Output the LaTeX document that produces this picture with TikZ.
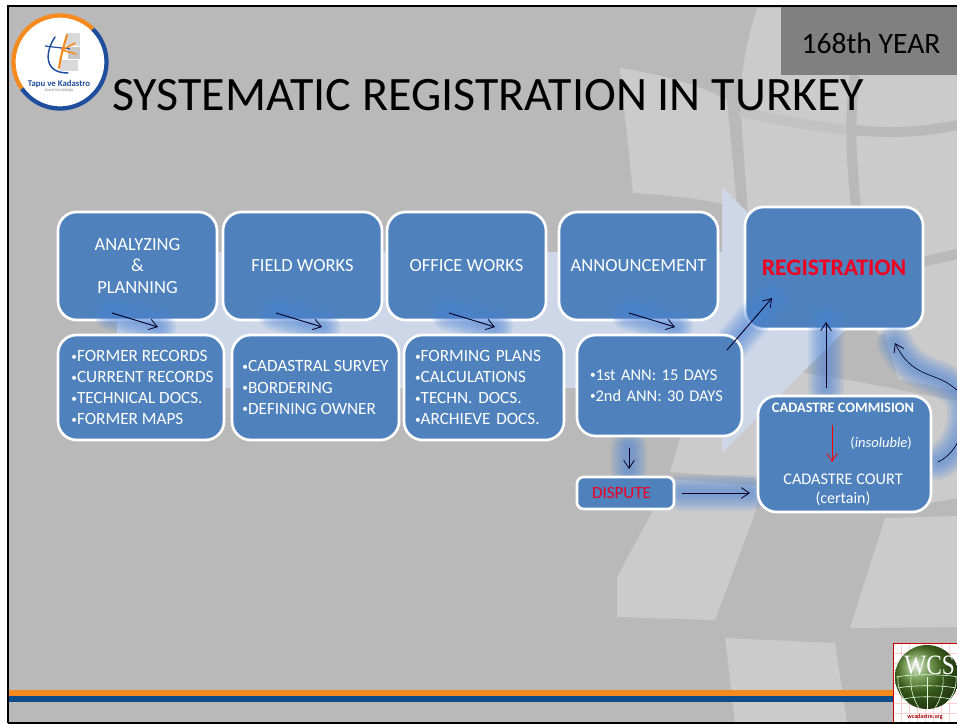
\documentclass[tikz,border=0pt]{standalone}
\usepackage{fontspec}
\setmainfont{Carlito}
\newfontfamily\wcsfont{Liberation Serif}
\usetikzlibrary{arrows.meta}
\definecolor{basegray}{HTML}{B9B9B9}
\definecolor{faintgray}{HTML}{C2C2C2}
\definecolor{lightgray2}{HTML}{CBCBCB}
\definecolor{palearrow}{HTML}{CED7E7}
\definecolor{boxblue}{HTML}{4F81BD}
\definecolor{glowblue}{HTML}{4A82D8}
\definecolor{barorange}{HTML}{F58A1F}
\definecolor{barblue}{HTML}{0F4C8A}
\definecolor{logoblue}{HTML}{1F4E9C}
\definecolor{yeargray}{HTML}{808080}
\definecolor{regred}{HTML}{F00020}
\definecolor{globegreen}{HTML}{55852A}
\newcommand{\pxw}[1]{#1*0.75pt}
\newcommand{\glowpath}[1]{\foreach \w in {36,32,28,24,20,16,12,8}{\draw[glowblue,line width=\pxw{\w},opacity=.1,line cap=round] #1;}}
\newcommand{\bul}{{\fontsize{8.5}{8}\selectfont\raisebox{1pt}{•}}}
\tikzset{
 patch/.style={fill=lightgray2,draw=none},
 strip/.style={draw=basegray,line width=7.5pt,line cap=butt},
 bx/.style={draw=white,line width=2pt,fill=boxblue,rounded corners=14pt,inner sep=0pt,text=white,align=center},
 boxtext/.style={font=\fontsize{13.9}{15.8}\selectfont},
 listtext/.style={font=\fontsize{12.9}{15.8}\selectfont,align=left},
 conn/.style={draw=black!85!blue,line width=.7pt,-{Straight Barb[length=6pt,width=8pt,line width=.6pt]}},
 redconn/.style={conn,draw=red},
 txt/.style={inner sep=0pt,text=white},
}
\begin{document}
\begin{tikzpicture}[x=0.75pt,y=-0.75pt]
\useasboundingbox (0,0) rectangle (957,724);
\fill[white] (0,0) rectangle (957,724);
\fill[basegray] (8,6) rectangle (957,723);
% background map patches
\fill[patch] (620,68) .. controls (660,74) and (700,85) .. (727,100) -- (737,207) .. controls (710,200) and (670,195) .. (633,193) -- cycle;
\fill[patch] (757,8) -- (957,8) -- (957,395) -- (895,382) -- (880,335) -- (748,212) -- (742,130) -- (740,90) .. controls (745,50) and (750,30) .. (757,8) -- cycle;
\fill[patch] (800,372) -- (895,388) -- (957,398) -- (957,498) -- (930,503) -- (760,478) -- (670,472) -- (680,438) -- (722,400) -- cycle;
\fill[patch] (670,479) -- (760,486) -- (755,513) -- (715,620) -- (617,617) -- (617,577) -- cycle;
\fill[patch] (885,518) -- (957,516) -- (957,627) -- (850,628) -- cycle;
\fill[patch] (725,638) -- (835,643) -- (847,722) -- (735,722) -- cycle;
\draw[strip,draw=faintgray] (740,112) .. controls (780,120) and (820,128) .. (853,130);
\draw[strip] (853,130) .. controls (890,134) and (925,132) .. (957,125);
\draw[strip] (855,75) .. controls (850,110) and (850,150) .. (856,207);
\draw[strip] (922,262) -- (957,254);
\draw[strip] (880,335) -- (893,380);
\draw[strip] (800,365) -- (957,396);
% large pale arrow
\fill[palearrow] (117,252) -- (722,252) -- (722,187) -- (855,320) -- (722,453) -- (722,388) -- (117,388) -- cycle;
% header
\fill[yeargray] (781,6) rectangle (957,75);
\draw[black,line width=1.5pt] (8,723) -- (8,6) -- (957,6);
\draw[black,line width=1.5pt] (8,723) -- (957,723);
\fill[barorange] (9,690) rectangle (893,696);
\fill[barblue] (9,696) rectangle (893,702);
% logo
\fill[white] (60,62) circle (48);
\fill[black!15] (66,33) rectangle (80,46);
\fill[black!22] (68,47) rectangle (80,59);
\fill[black!15] (60,60) rectangle (78,71);
\draw[logoblue,line width=1.1pt,line cap=round] (55,37) .. controls (46,50) and (42,73) .. (68,73);
\draw[logoblue,line width=.9pt] (45,46) -- (70,49);
\draw[barorange,line width=1.6pt,line cap=round] (67,35) .. controls (64,45) and (61,55) .. (59,68);
\draw[barorange,line width=1.2pt,line cap=round] (62,50) -- (75,43);
\draw[barorange,line width=1.2pt,line cap=round] (62,50) -- (76,54);
\draw[barorange,line width=3.2pt] plot[domain=45:215,samples=40] ({60+46.5*cos(\x)},{62-46.5*sin(\x)});
\draw[logoblue,line width=3.2pt] plot[domain=-145:45,samples=50] ({60+46.5*cos(\x)},{62-46.5*sin(\x)});
\node[inner sep=0pt,text=logoblue] (logoname) at (59,84) {\fontsize{6.6}{7}\selectfont\bfseries Tapu ve Kadastro};
\node[inner sep=0pt,text=black!50] (logosub) at (59,90) {\fontsize{3}{3.5}\selectfont Genel Müdürlüğü};
% titles
\node[inner sep=0pt,anchor=base west] (title) at (112,110) {\fontsize{36}{40}\selectfont SYSTEMATIC REGISTRATION IN TURKEY};
\node[inner sep=0pt] (year) at (871,43) {\fontsize{22.2}{24}\selectfont 168th YEAR};
% top row boxes
\node[bx,boxtext,minimum width=\pxw{159},minimum height=\pxw{108}] (analyze) at (137.5,266) {ANALYZING\\\&\\PLANNING};
\node[bx,boxtext,minimum width=\pxw{159},minimum height=\pxw{108}] (field) at (302.5,266) {FIELD WORKS};
\node[bx,boxtext,minimum width=\pxw{159},minimum height=\pxw{108}] (office) at (466.5,266) {OFFICE WORKS};
\node[bx,boxtext,minimum width=\pxw{159},minimum height=\pxw{108}] (announce) at (638.5,266) {ANNOUNCEMENT};
\node[bx,text=regred,minimum width=\pxw{178},minimum height=\pxw{122},font=\fontsize{17.8}{20}\selectfont\bfseries] (reg) at (834,268) {REGISTRATION};
% connector end points
\coordinate (a1s) at (112,313); \coordinate (a1e) at (158,327);
\coordinate (a2s) at (276,313); \coordinate (a2e) at (322,327);
\coordinate (a3s) at (449,313); \coordinate (a3e) at (495,327);
\coordinate (a4s) at (629,313); \coordinate (a4e) at (675,327);
\coordinate (a5s) at (727,350); \coordinate (a5e) at (772,298);
\coordinate (a6s) at (826,388); \coordinate (a6e) at (826,322);
\coordinate (a7s) at (938,462); \coordinate (a7e) at (895,343);
\coordinate (a8s) at (832,425); \coordinate (a8e) at (832,462);
\coordinate (a9s) at (629,448); \coordinate (a9e) at (629,469);
\coordinate (a10s) at (682,493); \coordinate (a10e) at (750,493);
% glows
\glowpath{(a1s) -- (a1e)}
\glowpath{(a2s) -- (a2e)}
\glowpath{(a3s) -- (a3e)}
\glowpath{(a4s) -- (a4e)}
\glowpath{(a5s) -- (a5e)}
\glowpath{(a6s) -- (a6e)}
\glowpath{(a9s) -- (a9e)}
\glowpath{(a10s) -- (a10e)}
\glowpath{(a7s) .. controls (965,450) and (975,400) .. (953,387) .. controls (935,372) and (912,378) .. (a7e)}
% lower row boxes
\node[bx,listtext,minimum width=\pxw{166},minimum height=\pxw{105}] (former) at (141,387.5) {\hspace*{2.2pt}\bul FORMER RECORDS\\\hspace*{2.2pt}\bul CURRENT RECORDS\\\hspace*{2.2pt}\bul TECHNICAL DOCS.\\\hspace*{2.2pt}\bul FORMER MAPS};
\node[bx,listtext,minimum width=\pxw{167},minimum height=\pxw{105}] (survey) at (315.5,387.5) {\bul CADASTRAL SURVEY\\\bul BORDERING\\\bul DEFINING OWNER};
\node[bx,listtext,minimum width=\pxw{160},minimum height=\pxw{105},text width=\pxw{138}] (plans) at (484,387.5) {\bul FORMING PLANS\\\bul CALCULATIONS\\\bul TECHN. DOCS.\\\bul ARCHIEVE DOCS.};
\node[bx,listtext,font=\fontsize{12.3}{15.8}\selectfont,minimum width=\pxw{165},minimum height=\pxw{101},text width=\pxw{139}] (ann) at (659.5,385.5) {\bul 1st ANN: 15 DAYS\\\bul 2nd ANN: 30 DAYS};
\node[bx,rounded corners=5pt,text=regred,minimum width=\pxw{97},minimum height=\pxw{32},text width=\pxw{67},align=left,font=\fontsize{12.8}{14}\selectfont] (dispute) at (625.5,493) {\raisebox{-2.2pt}{DISPUTE}};
\node[bx,minimum width=\pxw{173},minimum height=\pxw{116}] (cadbox) at (844.5,454) {};
\node[txt,font=\fontsize{10.8}{13}\selectfont\bfseries] (commision) at (843,408) {CADASTRE COMMISION};
\node[txt,anchor=east,font=\fontsize{10.9}{13}\selectfont] (insoluble) at (912,443) {(\textit{insoluble})};
\node[txt,font=\fontsize{12.2}{14}\selectfont] (court) at (843,479) {CADASTRE COURT};
\node[txt,font=\fontsize{12}{14}\selectfont] (certain) at (843,499) {(certain)};
% connectors
\draw[conn] (a1s) -- (a1e);
\draw[conn] (a2s) -- (a2e);
\draw[conn] (a3s) -- (a3e);
\draw[conn] (a4s) -- (a4e);
\draw[conn] (a5s) -- (a5e);
\draw[conn] (a6s) -- (a6e);
\draw[redconn] (a8s) -- (a8e);
\draw[conn] (a9s) -- (a9e);
\draw[conn] (a10s) -- (a10e);
\draw[conn,line width=.5pt] (a7s) .. controls (965,450) and (975,400) .. (953,387) .. controls (935,372) and (912,378) .. (a7e);
% WCS badge
\fill[white] (893,643) rectangle (957,722);
\begin{scope}
\clip (893,643) rectangle (957,722);
\foreach \g in {0,1,...,8}{
 \draw[red!18,line width=.3pt] (893+8*\g,643) -- (893+8*\g,722);
 \draw[red!18,line width=.3pt] (893,643+10*\g) -- (957,643+10*\g);
}
\shade[ball color=globegreen] (927,677) circle (32);
\foreach \yy/\hw in {677/31,688/29,699/23}{\draw[white!85!green,line width=.45pt] (927-\hw,\yy) .. controls (927-\hw/2,\yy-3) and (927+\hw/2,\yy-3) .. (927+\hw,\yy);}
\draw[white!85!green,line width=.45pt] (927,677) -- (927,709);
\draw[white!85!green,line width=.45pt] (911,677) .. controls (910,690) and (914,700) .. (919,708);
\draw[white!85!green,line width=.45pt] (943,677) .. controls (944,690) and (940,700) .. (935,708);
\draw[white!85!green,line width=.45pt] (898,677) .. controls (897,688) and (902,698) .. (909,704);
\draw[white!85!green,line width=.45pt] (956,677) .. controls (957,688) and (952,698) .. (945,704);
\end{scope}
\node[inner sep=0pt,text=white,anchor=west,yscale=1.2] (wcs) at (904,665) {\fontsize{17.5}{20}\selectfont\wcsfont WCS};
\node[inner sep=0pt,text=red!65!black] (wcsurl) at (925,717) {\fontsize{4.5}{5}\selectfont\bfseries wcadastre.org};
\draw[red!80!black,line width=.6pt] (957,643) -- (893,643) -- (893,722);
\end{tikzpicture}
\end{document}
